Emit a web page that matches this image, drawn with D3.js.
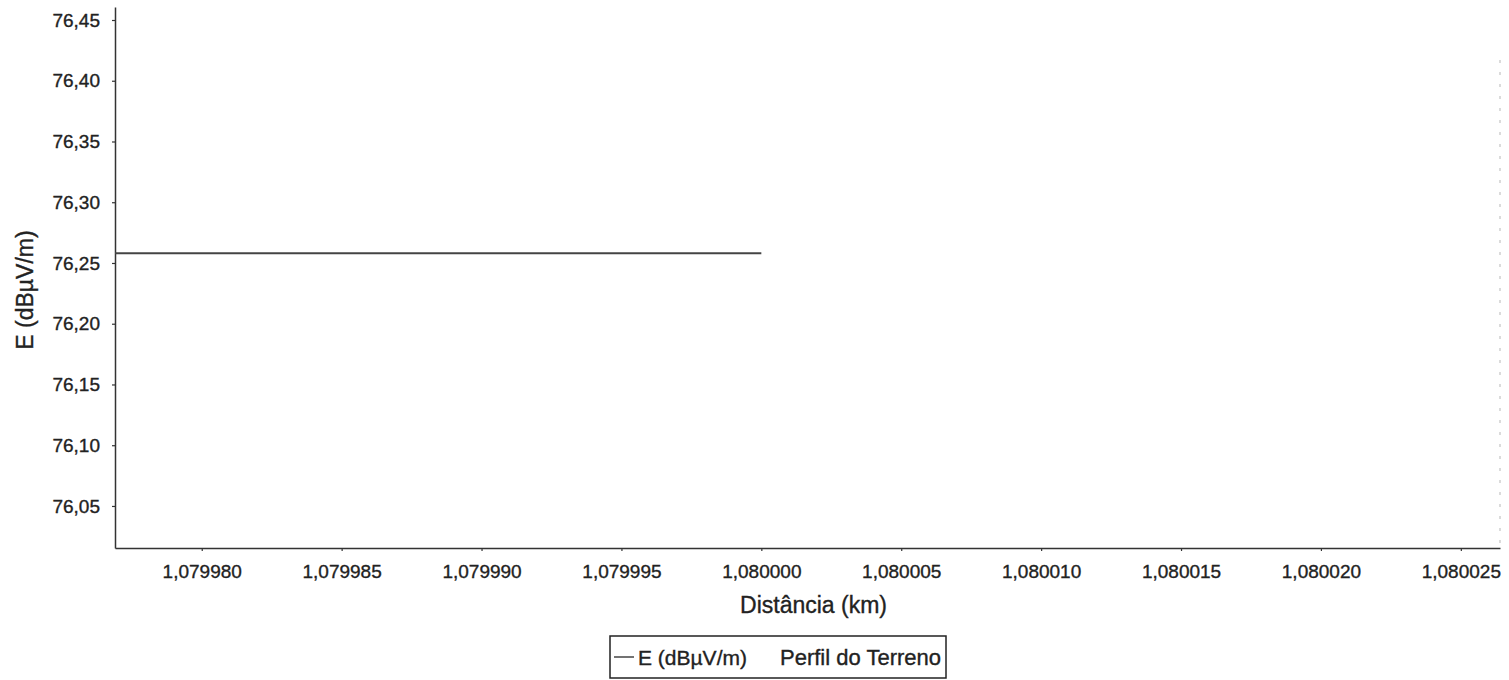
<!DOCTYPE html>
<html><head><meta charset="utf-8">
<script src="https://cdn.jsdelivr.net/npm/d3@7"></script>
<style>
html,body{margin:0;padding:0;background:#fff;}
svg text{font-family:"Liberation Sans",Arial,sans-serif;fill:#222;stroke:#222;stroke-width:0.35px;}
</style></head>
<body><svg id="c" width="1509" height="680"></svg>
<script>
// Data
const distance = [1.0799769, 1.080000];
const fieldE = [76.258, 76.258];
const xTicks = [1.079980, 1.079985, 1.079990, 1.079995, 1.080000, 1.080005, 1.080010, 1.080015, 1.080020, 1.080025];
const yTicks = [76.05, 76.10, 76.15, 76.20, 76.25, 76.30, 76.35, 76.40, 76.45];
const xDomain = [1.0799769, 1.0800264];
const yDomain = [76.0154, 76.4607];
const legendLabels = ["E (dBµV/m)", "Perfil do Terreno"];
const xTitle = "Distância (km)";
const yTitle = "E (dBµV/m)";

const svg = d3.select("#c");
const L = 115, R = 1500, T = 7, B = 548;
const x = d3.scaleLinear().domain(xDomain).range([L, R]);
const y = d3.scaleLinear().domain(yDomain).range([B, T]);
const fmtX = v => d3.format(".6f")(v).replace(".", ",");
const fmtY = v => d3.format(".2f")(v).replace(".", ",");

// right faint border
svg.append("line").attr("x1", R).attr("x2", R).attr("y1", 60).attr("y2", B)
  .attr("stroke", "#999").attr("stroke-width", 1).attr("stroke-dasharray", "3,9").attr("opacity", 0.7);

const xAxis = svg.append("g").attr("transform", `translate(0,${B})`)
  .call(d3.axisBottom(x).tickValues(xTicks).tickFormat(fmtX).tickSize(3).tickSizeOuter(0).tickPadding(14));
const yAxis = svg.append("g").attr("transform", `translate(${L},0)`)
  .call(d3.axisLeft(y).tickValues(yTicks).tickFormat(fmtY).tickSize(3).tickSizeOuter(0).tickPadding(12));
[xAxis, yAxis].forEach(g => {
  g.select(".domain").attr("stroke", "#333").attr("stroke-width", 1.5);
  g.selectAll(".tick line").attr("stroke", "#333").attr("stroke-width", 1.2);
  g.selectAll(".tick text").attr("font-size", 19).attr("fill", "#222")
    .attr("font-family", "'Liberation Sans', Arial, sans-serif");
});

// series line
svg.append("path").datum(distance.map((d, i) => [d, fieldE[i]]))
  .attr("d", d3.line().x(d => x(d[0])).y(d => y(d[1])))
  .attr("fill", "none").attr("stroke", "#444").attr("stroke-width", 1.8);

// axis titles
svg.append("text").attr("x", (L + R) / 2 + 6).attr("y", 613).attr("text-anchor", "middle")
  .attr("font-size", 23).text(xTitle);
svg.append("text").attr("transform", `translate(33,${290}) rotate(-90)`).attr("text-anchor", "middle")
  .attr("font-size", 23).text(yTitle);

// legend
const lg = svg.append("g");
lg.append("rect").attr("x", 610).attr("y", 636).attr("width", 336).attr("height", 42)
  .attr("fill", "none").attr("stroke", "#222").attr("stroke-width", 1.5);
lg.append("line").attr("x1", 614).attr("x2", 634).attr("y1", 657).attr("y2", 657)
  .attr("stroke", "#444").attr("stroke-width", 1.5);
lg.append("text").attr("x", 638).attr("y", 665).attr("font-size", 21).text(legendLabels[0]);
lg.append("text").attr("x", 941).attr("y", 665).attr("text-anchor", "end").attr("font-size", 22).text(legendLabels[1]);
</script></body></html>
